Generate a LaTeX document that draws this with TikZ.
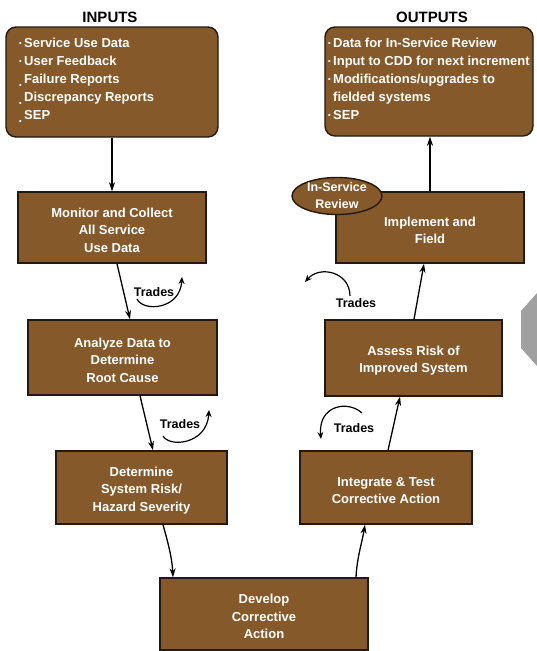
\documentclass[tikz,border=0pt]{standalone}
\usepackage{fontspec}
\setmainfont{Liberation Sans}
\usetikzlibrary{arrows.meta,shapes.geometric}
\definecolor{boxbrown}{RGB}{134,89,42}
\definecolor{edgedark}{RGB}{35,25,15}
\definecolor{tabgray}{RGB}{160,160,160}

% bullets placed just left of a list line
\newcommand{\hibullet}{\llap{\raisebox{3pt}{.}\hspace{2pt}}}
\newcommand{\lobullet}{\llap{\raisebox{-3pt}{.}\hspace{2pt}}}
% extra head room on the first line of a step label
\newcommand{\toproom}{\rule{0pt}{15pt}}

\begin{document}
\begin{tikzpicture}[x=1pt,y=-1pt,
  stepbox/.style={draw=edgedark, line width=1.4pt, fill=boxbrown, text=white,
    font=\bfseries\fontsize{13}{17.5}\selectfont, align=center, inner sep=0pt},
  listbox/.style={stepbox, rounded corners=10pt},
  listtext/.style={text=white, font=\bfseries\fontsize{13}{18}\selectfont,
    align=left, inner sep=0pt, anchor=north west},
  heading/.style={font=\bfseries\fontsize{15}{15}\selectfont, inner sep=0pt},
  flow/.style={draw=black, line width=1.3pt, -{Stealth[length=9pt,width=6pt]}},
  tradeloop/.style={draw=black, line width=1.2pt, -{Stealth[length=7pt,width=6pt]}},
  tradelabel/.style={font=\bfseries\fontsize{12.5}{12.5}\selectfont, inner sep=0pt},
]
\useasboundingbox (0,0) rectangle (537,651);

% side tab at the right edge
\fill[tabgray] (537,293) -- (521,311) -- (521,348) -- (537,366) -- cycle;

% headings
\node[heading] (inhead) at (110,17) {INPUTS};
\node[heading] (outhead) at (432,17) {OUTPUTS};

% input and output lists
\node[listbox, minimum width=212pt, minimum height=110pt] (inbox) at (112,82) {};
\node[listtext] (inlist) at (24,38) {\hibullet Service Use Data\\
  \hibullet User Feedback\\
  \lobullet Failure Reports\\
  \lobullet Discrepancy Reports\\
  \lobullet SEP};

\node[listbox, minimum width=208pt, minimum height=109pt] (outbox) at (429,81.5) {};
\node[listtext] (outlist) at (333,38) {\hibullet Data for In-Service Review\\
  \hibullet Input to CDD for next increment\\
  \hibullet Modifications/upgrades to\\
  fielded systems\\
  \hibullet SEP};

% process steps
\node[stepbox, minimum width=188pt, minimum height=71pt] (monbox) at (112,227.5)
  {\toproom Monitor and Collect\\All Service\\Use Data};
\node[stepbox, minimum width=189pt, minimum height=75pt] (anabox) at (122.5,357.5)
  {\toproom Analyze Data to\\Determine\\Root Cause};
\node[stepbox, minimum width=171pt, minimum height=73pt] (detbox) at (141.5,487.5)
  {\toproom Determine\\System Risk/\\Hazard Severity};
\node[stepbox, minimum width=208pt, minimum height=72pt] (devbox) at (264,614)
  {\toproom Develop\\Corrective\\Action};
\node[stepbox, minimum width=172pt, minimum height=73pt] (intbox) at (386,487.5)
  {\toproom Integrate \& Test\\Corrective Action};
\node[stepbox, minimum width=177pt, minimum height=76pt] (assbox) at (413.5,358)
  {\toproom Assess Risk of\\Improved System};
\node[stepbox, minimum width=188pt, minimum height=71pt] (impbox) at (430,227.5)
  {\toproom Implement and\\Field};
\node[stepbox, ellipse, minimum width=90pt, minimum height=37pt,
  font=\bfseries\fontsize{12.5}{17}\selectfont] (isrev) at (337,196)
  {In-Service\\Review};

% main flow
\draw[flow] (inbox.south) -- (monbox.north);
\draw[flow] ([xshift=5pt]monbox.south) -- ([xshift=7.5pt]anabox.north);
\draw[flow] ([xshift=17.5pt]anabox.south) -- ([xshift=11.5pt]detbox.north);
\draw[flow] ([xshift=21.5pt]detbox.south) .. controls +(5,18) and +(-1,-20) .. ([xshift=-91pt]devbox.north);
\draw[flow] ([xshift=92pt]devbox.north) .. controls +(1,-20) and +(-3,18) .. ([xshift=-21pt]intbox.south);
\draw[flow] ([xshift=2pt]intbox.north) -- ([xshift=-13.5pt]assbox.south);
\draw[flow] ([xshift=0.5pt]assbox.north) -- ([xshift=-6pt]impbox.south);
\draw[flow] (impbox.north) -- (impbox.north |- outbox.south);

% trade-off loops
\node[tradelabel] (trade1) at (154,292) {Trades};
\coordinate (t1s) at (137,299);
\coordinate (t1e) at (182,277);
\draw[tradeloop] (t1s) .. controls (143,312) and (180,310) .. (t1e);

\node[tradelabel] (trade2) at (180,424) {Trades};
\coordinate (t2s) at (163,436);
\coordinate (t2e) at (209,410);
\draw[tradeloop] (t2s) .. controls (170,448) and (207,444) .. (t2e);

\node[tradelabel] (trade3) at (354,428) {Trades};
\coordinate (t3s) at (362,413);
\coordinate (t3e) at (321,439);
\draw[tradeloop] (t3s) .. controls (348,400) and (318,405) .. (t3e);

\node[tradelabel] (trade4) at (356,303) {Trades};
\coordinate (t4s) at (350,296);
\coordinate (t4e) at (305,282);
\draw[tradeloop] (t4s) .. controls (350,272) and (320,265) .. (t4e);
\end{tikzpicture}
\end{document}
